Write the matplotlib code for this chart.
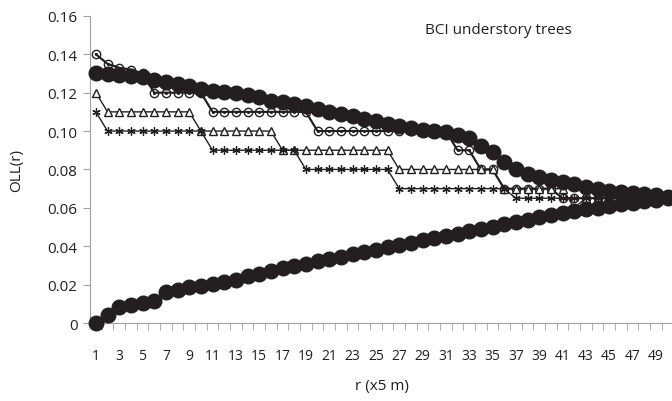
import matplotlib
matplotlib.use("Agg")
import matplotlib.pyplot as plt

# r categories 1..50
r = list(range(1, 51))

# open circle (dot) series
oll_circle = [0.14, 0.135, 0.133, 0.132, 0.13] + [0.12] * 5 + [0.11] * 9 + \
    [0.10] * 12 + [0.09] * 2 + [0.08] * 2 + [0.07] * 5 + [0.065] * 10
# triangle series
oll_tri = [0.12] + [0.11] * 8 + [0.10] * 7 + [0.09] * 10 + [0.08] * 9 + \
    [0.07] * 6 + [0.06] + [0.065] * 8
# asterisk series
oll_star = [0.11] + [0.10] * 9 + [0.09] * 8 + [0.08] * 8 + [0.07] * 10 + [0.065] * 14

# envelope (big black dots)
upper = [0.1305, 0.1297, 0.129, 0.1288, 0.128, 0.1267, 0.1257, 0.1245, 0.1236, 0.122,
         0.121, 0.1203, 0.1197, 0.119, 0.1177, 0.1158, 0.115, 0.114, 0.113, 0.1115,
         0.110, 0.109, 0.108, 0.1065, 0.105, 0.1035, 0.1025, 0.1015, 0.1008, 0.100,
         0.0995, 0.098, 0.0965, 0.092, 0.089, 0.084, 0.080, 0.0776, 0.076, 0.0745,
         0.0734, 0.0724, 0.0708, 0.0698, 0.0688, 0.0683, 0.0678, 0.067, 0.0665, 0.0655]
lower = [0.0, 0.004, 0.0083, 0.0094, 0.0104, 0.0115, 0.016, 0.017, 0.0187, 0.0193,
         0.0203, 0.0213, 0.0224, 0.0245, 0.0255, 0.027, 0.0286, 0.0298, 0.031, 0.0322,
         0.0334, 0.0346, 0.0358, 0.037, 0.0382, 0.0394, 0.0406, 0.0418, 0.043, 0.0442,
         0.0454, 0.0466, 0.0478, 0.049, 0.0502, 0.0514, 0.0526, 0.0538, 0.055, 0.0562,
         0.0572, 0.0582, 0.0592, 0.0601, 0.061, 0.0619, 0.0627, 0.0635, 0.0643, 0.065]

yticks = [0, 0.02, 0.04, 0.06, 0.08, 0.10, 0.12, 0.14, 0.16]
ytick_labels = ["0", "0.02", "0.04", "0.06", "0.08", "0.10", "0.12", "0.14", "0.16"]

ink = "#231f20"
gray = "#a0a0a0"
fam = ["Open Sans", "DejaVu Sans"]

fig = plt.figure(figsize=(6.72, 4.02), dpi=100)
ax = fig.add_axes([0.134, 0.194, 0.868, 0.764])

ax.plot(r, oll_circle, "-", color=ink, lw=1.0, marker="o", ms=6, mfc="white",
        mec=ink, mew=1.0, zorder=3)
ax.plot(r, oll_circle, "none", marker=".", ms=2.5, color=ink, zorder=3)
ax.plot(r, oll_tri, "-", color=ink, lw=1.0, marker="^", ms=6, mfc="white",
        mec=ink, mew=1.0, zorder=3)
ax.plot(r, oll_star, "-", color=ink, lw=1.0, marker=(6, 2, 0), ms=6, mec=ink,
        mew=0.9, zorder=3)
ax.plot(r, upper, "-", color=ink, lw=1.0, marker="o", ms=10.5, mfc=ink, mec=ink,
        zorder=4, clip_on=False)
ax.plot(r, lower, "-", color=ink, lw=1.0, marker="o", ms=10.5, mfc=ink, mec=ink,
        zorder=4, clip_on=False)

ax.set_xlim(0.5, 50.5)
ax.set_ylim(0, 0.16)
ax.set_yticks(yticks)
ax.set_yticklabels(ytick_labels, fontsize=11, color=ink, family=fam)
ax.set_xticks(r[::2])
ax.set_xticklabels([str(v) for v in r[::2]], fontsize=10, color=ink, family=fam)
ax.set_xticks([v + 0.5 for v in r[:-1]], minor=True)
ax.tick_params(axis="x", which="major", length=0, pad=18)
ax.tick_params(axis="x", which="minor", length=5, color=gray, direction="out")
ax.tick_params(axis="y", length=5, color=gray, pad=4)

for s in ["top", "right"]:
    ax.spines[s].set_visible(False)
ax.spines["left"].set_color(gray)
ax.spines["bottom"].set_color(gray)

ax.set_ylabel("OLL(r)", fontsize=11, color=ink, family=fam, labelpad=17)
ax.set_xlabel("r (x5 m)", fontsize=11, color=ink, family=fam, labelpad=11)
ax.text(0.70, 0.955, "BCI understory trees", transform=ax.transAxes, ha="center", va="center",
        fontsize=11, color=ink, family=fam)

fig.savefig("out.png", dpi=100)
